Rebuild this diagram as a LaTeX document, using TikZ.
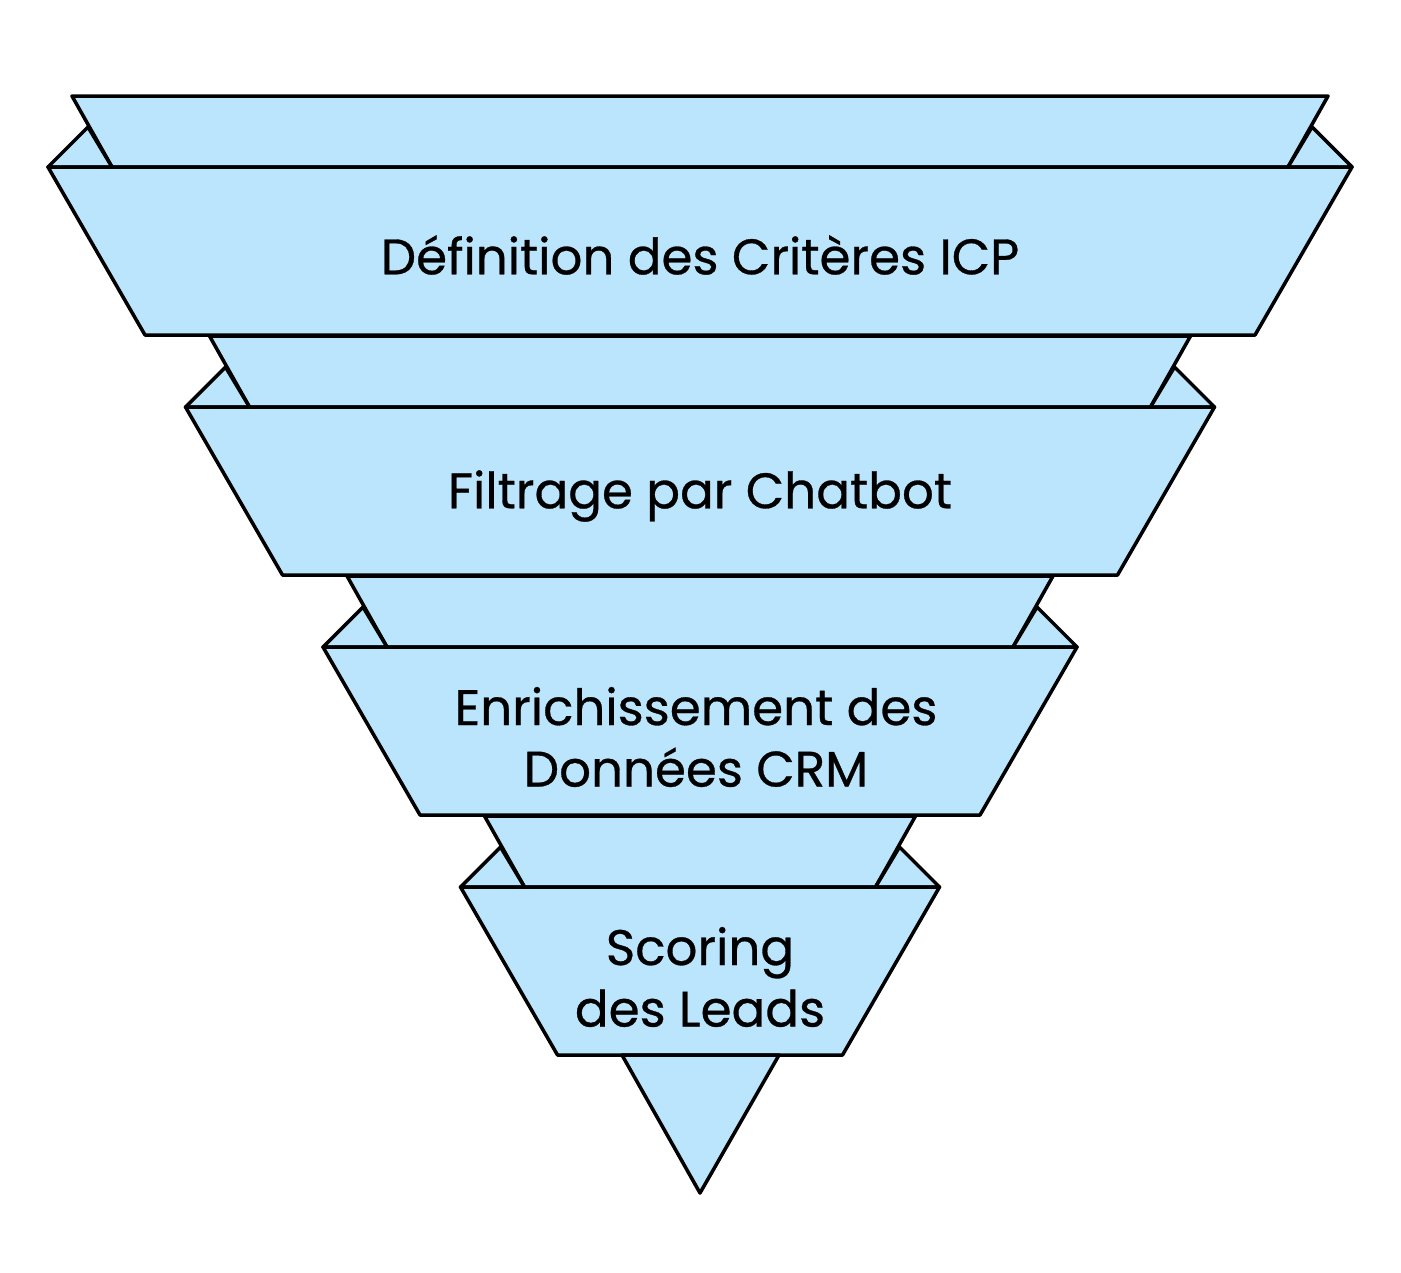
\documentclass[tikz,border=0pt]{standalone}
\usepackage{fontspec}
\setmainfont{Poppins}[FakeBold=0.6]
\usetikzlibrary{positioning}
\definecolor{funnelblue}{HTML}{BAE5FD}
\tikzset{
  band/.style={draw=black, fill=funnelblue, line width=1pt, line join=round},
  label/.style={font=\fontsize{14.2}{17.5}\selectfont, align=center}
}
\begin{document}
\begin{tikzpicture}[x=0.01cm, y=-0.01cm]
  \useasboundingbox (0,0) rectangle (1401,1272);
  % bands, back strip first then front trapezoid
  \foreach \k in {0,1,2,3} {
    \pgfmathsetmacro{\ft}{167+240*\k}
    \pgfmathsetmacro{\hw}{652-137.5*\k}
    % back strip with wings
    \draw[band] (700-\hw+24,\ft-71) -- (700+\hw-24,\ft-71) -- (700+\hw-64,\ft) -- (700-\hw+64,\ft) -- cycle;
    \draw[band] (700-\hw,\ft) -- (700-\hw+40,\ft-40) -- (700-\hw+64,\ft) -- cycle;
    \draw[band] (700+\hw,\ft) -- (700+\hw-40,\ft-40) -- (700+\hw-64,\ft) -- cycle;
    % front
    \draw[band] (700-\hw,\ft) -- (700+\hw,\ft) -- (700+\hw-97,\ft+168) -- (700-\hw+97,\ft+168) -- cycle;
  }
  % tip
  \draw[band] (622,1055) -- (779,1055) -- (700,1193) -- cycle;
  % texts
  \node[label] (icp) at (700,255) {Définition des Critères ICP};
  \node[label] (chatbot) at (700,496) {Filtrage par Chatbot};
  \node[label] (crm) at (696,737) {Enrichissement des\\Données CRM};
  \node[label] (scoring) at (700,977) {Scoring\\des Leads};
\end{tikzpicture}
\end{document}
